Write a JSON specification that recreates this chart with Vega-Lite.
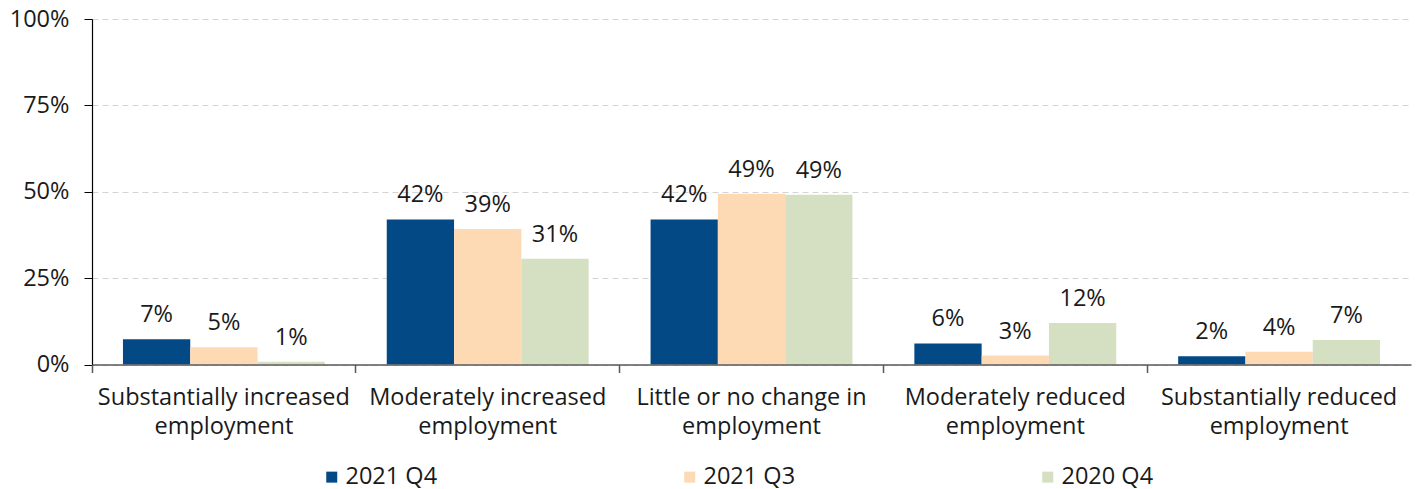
{
  "$schema": "https://vega.github.io/schema/vega-lite/v6.json",
  "width": 1319,
  "height": 345.5,
  "autosize": {"type": "none"},
  "padding": {"left": 92, "top": 19, "right": 6, "bottom": 124.5},
  "background": "white",
  "config": {
    "view": {"stroke": null},
    "font": "Open Sans"
  },
  "data": {
    "values": [
      {"category": "Substantially increased employment", "period": "2021 Q4", "share": 0.073},
      {"category": "Substantially increased employment", "period": "2021 Q3", "share": 0.050},
      {"category": "Substantially increased employment", "period": "2020 Q4", "share": 0.008},
      {"category": "Moderately increased employment", "period": "2021 Q4", "share": 0.420},
      {"category": "Moderately increased employment", "period": "2021 Q3", "share": 0.392},
      {"category": "Moderately increased employment", "period": "2020 Q4", "share": 0.306},
      {"category": "Little or no change in employment", "period": "2021 Q4", "share": 0.420},
      {"category": "Little or no change in employment", "period": "2021 Q3", "share": 0.494},
      {"category": "Little or no change in employment", "period": "2020 Q4", "share": 0.491},
      {"category": "Moderately reduced employment", "period": "2021 Q4", "share": 0.061},
      {"category": "Moderately reduced employment", "period": "2021 Q3", "share": 0.026},
      {"category": "Moderately reduced employment", "period": "2020 Q4", "share": 0.120},
      {"category": "Substantially reduced employment", "period": "2021 Q4", "share": 0.024},
      {"category": "Substantially reduced employment", "period": "2021 Q3", "share": 0.037},
      {"category": "Substantially reduced employment", "period": "2020 Q4", "share": 0.071}
    ]
  },
  "encoding": {
    "x": {
      "field": "category",
      "type": "nominal",
      "sort": [
        "Substantially increased employment",
        "Moderately increased employment",
        "Little or no change in employment",
        "Moderately reduced employment",
        "Substantially reduced employment"
      ],
      "scale": {"paddingInner": 0, "paddingOuter": 0},
      "axis": {
        "title": null,
        "labelAngle": 0,
        "bandPosition": 0,
        "grid": false,
        "zindex": 1,
        "domainColor": "#595959",
        "domainWidth": 1.5,
        "tickColor": "#595959",
        "tickWidth": 1.5,
        "tickSize": 8,
        "labelFont": "Open Sans",
        "labelFontSize": 23.5,
        "labelColor": "#1a1a1a",
        "labelPadding": 13,
        "labelBaseline": "top",
        "labelLineHeight": 28.5,
        "labelLimit": 300,
        "labelExpr": "[replace(datum.label, ' employment', ''), 'employment']"
      }
    },
    "xOffset": {
      "field": "period",
      "type": "nominal",
      "sort": ["2021 Q4", "2021 Q3", "2020 Q4"],
      "scale": {"paddingInner": 0, "paddingOuter": 0.46}
    },
    "y": {
      "field": "share",
      "type": "quantitative",
      "scale": {"domain": [0, 1], "nice": false},
      "axis": {
        "title": null,
        "values": [0, 0.25, 0.5, 0.75, 1],
        "format": ".0%",
        "domainColor": "#000000",
        "domainWidth": 1.2,
        "tickColor": "#000000",
        "tickSize": 8,
        "labelFont": "Open Sans",
        "labelFontSize": 23.5,
        "labelColor": "#1a1a1a",
        "labelPadding": 15,
        "grid": true,
        "gridColor": "#d4d4d4",
        "gridDash": [6, 4],
        "gridWidth": 1
      }
    }
  },
  "layer": [
    {
      "mark": {"type": "bar"},
      "encoding": {
        "color": {
          "field": "period",
          "type": "nominal",
          "sort": ["2021 Q4", "2021 Q3", "2020 Q4"],
          "scale": {
            "domain": ["2021 Q4", "2021 Q3", "2020 Q4"],
            "range": ["#034985", "#fdd9b4", "#d5dfc2"]
          },
          "legend": {
            "title": null,
            "orient": "none",
            "direction": "horizontal",
            "legendX": 228,
            "legendY": 446,
            "symbolType": "square",
            "symbolSize": 121,
            "symbolStrokeWidth": 0,
            "labelFont": "Open Sans",
            "labelFontSize": 23.5,
            "labelColor": "#1a1a1a",
            "labelOffset": 2,
            "columnPadding": 240
          }
        }
      }
    },
    {
      "mark": {
        "type": "text",
        "baseline": "alphabetic",
        "dy": -17,
        "font": "Open Sans",
        "fontSize": 23.5,
        "color": "#1a1a1a"
      },
      "encoding": {
        "text": {"field": "share", "type": "quantitative", "format": ".0%"}
      }
    }
  ]
}
